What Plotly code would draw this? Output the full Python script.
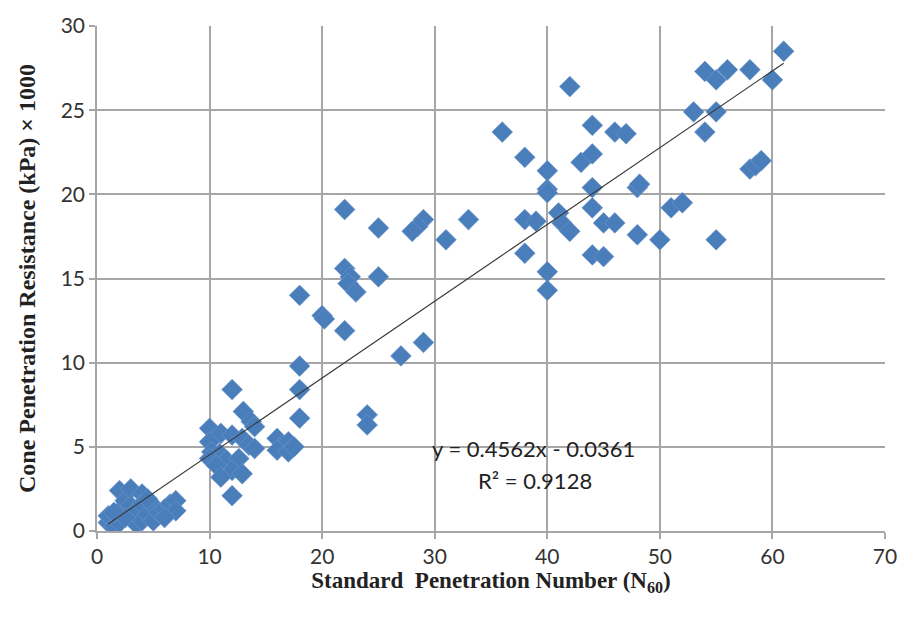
import plotly.graph_objects as go

# SPT N60 values
n60 = [61, 54, 55, 56, 58, 60,
       53, 55, 54,
       58, 58.5, 59,
       55, 50, 51, 52,
       48, 48.2, 48,
       46, 47,
       44, 43, 44,
       42,
       44, 44, 45, 46,
       44, 45,
       40, 40, 40,
       41, 41.3, 42,
       38, 39,
       38,
       40, 40,
       38, 36,
       33, 31,
       29, 28.5, 28,
       25, 25,
       22, 22, 22.5, 22.3, 23,
       22,
       20, 20.2,
       18, 18, 18, 18,
       27, 29,
       24, 24,
       12, 13, 13.7, 14, 10, 11, 12, 10, 12.9, 13.5, 14, 10.2, 10.9, 10, 11.5, 12.6, 10.6, 12, 11, 12.9, 12,
       16, 16.5, 17, 16, 17, 17.5,
       1, 1, 1.5, 2, 2, 2, 2.5, 3, 3, 3, 3.5, 3.5, 4, 4, 4, 4.5, 5, 5, 5.5, 6, 6.5, 7, 7, 6, 4.5, 2.5, 1.5]

# Cone penetration resistance (kPa) x 1000
qc = [28.5, 27.3, 26.8, 27.4, 27.4, 26.8,
      24.9, 24.9, 23.7,
      21.5, 21.7, 22.0,
      17.3, 17.3, 19.2, 19.5,
      20.4, 20.6, 17.6,
      23.7, 23.6,
      24.1, 21.9, 22.4,
      26.4,
      20.4, 19.2, 18.3, 18.3,
      16.4, 16.3,
      21.4, 20.3, 20.1,
      18.9, 18.3, 17.8,
      18.5, 18.4,
      16.5,
      15.4, 14.3,
      22.2, 23.7,
      18.5, 17.3,
      18.5, 18.1, 17.8,
      18.0, 15.1,
      19.1, 15.6, 15.1, 14.7, 14.2,
      11.9,
      12.8, 12.6,
      14.0, 9.8, 8.4, 6.7,
      10.4, 11.2,
      6.9, 6.3,
      8.4, 7.1, 6.5, 6.2, 6.1, 5.8, 5.7, 5.3, 5.5, 5.1, 4.9, 4.7, 4.6, 4.3, 4.2, 4.3, 3.9, 3.6, 3.2, 3.4, 2.1,
      5.5, 5.1, 5.3, 4.8, 4.7, 5.0,
      0.5, 0.9, 0.3, 1.2, 0.5, 2.4, 1.8, 2.5, 1.5, 0.8, 0.4, 1.2, 2.2, 1.6, 0.6, 1.0, 1.5, 0.6, 1.1, 1.3, 1.6, 1.8, 1.2, 0.8, 1.9, 0.8, 1.1]

# Linear trend line (as shown on chart)
slope = 0.4562
intercept = -0.0361
trend_x = [1, 61]
trend_y = [slope * v + intercept for v in trend_x]

x_ticks = [0, 10, 20, 30, 40, 50, 60, 70]
y_ticks = [0, 5, 10, 15, 20, 25, 30]

fig = go.Figure()
fig.add_trace(go.Scatter(
    x=n60, y=qc, mode="markers",
    marker=dict(symbol="diamond", size=16, color="#4a7ebb",
                line=dict(width=0.6, color="#6f98cc")),
    showlegend=False))
fig.add_trace(go.Scatter(
    x=trend_x, y=trend_y, mode="lines",
    line=dict(color="#3a3a3a", width=1.2), showlegend=False))

fig.add_annotation(x=38.8, y=4.9, xref="x", yref="y",
                   text="y = 0.4562x - 0.0361", showarrow=False,
                   font=dict(family="Lato, Carlito, sans-serif", size=22, color="#222"))
fig.add_annotation(x=38.9, y=3.0, xref="x", yref="y",
                   text="R² = 0.9128", showarrow=False,
                   font=dict(family="Lato, Carlito, sans-serif", size=22, color="#222"))

grid_col = "#a6a6a6"
fig.update_xaxes(range=[0, 70], tickvals=x_ticks, showgrid=True, gridcolor=grid_col,
                 gridwidth=1.5, zeroline=False, showline=True, linecolor=grid_col,
                 linewidth=1.5, mirror=False, ticks="outside", ticklen=6,
                 tickcolor=grid_col, tickwidth=1.5,
                 tickfont=dict(family="Lato, sans-serif", size=21, color="#333"),
                 title=dict(text="<b>Standard  Penetration Number (N<sub>60</sub>)</b>",
                            font=dict(family="Liberation Serif, Times New Roman, serif", size=23, color="#222"),
                            standoff=4))
fig.update_yaxes(range=[0, 30], tickvals=y_ticks, showgrid=True, gridcolor=grid_col,
                 gridwidth=1.5, zeroline=False, showline=True, linecolor=grid_col,
                 linewidth=1.5, ticks="outside", ticklen=6, tickcolor=grid_col, tickwidth=1.5,
                 tickfont=dict(family="Lato, sans-serif", size=21, color="#333"),
                 title=dict(text="<b>Cone Penetration Resistance (kPa) × 1000</b>",
                            font=dict(family="Liberation Serif, Times New Roman, serif", size=24, color="#222"),
                            standoff=18))

fig.update_layout(width=909, height=620, plot_bgcolor="white", paper_bgcolor="white",
                  margin=dict(l=97, r=18, t=18, b=89))

fig.write_html("out.html")
